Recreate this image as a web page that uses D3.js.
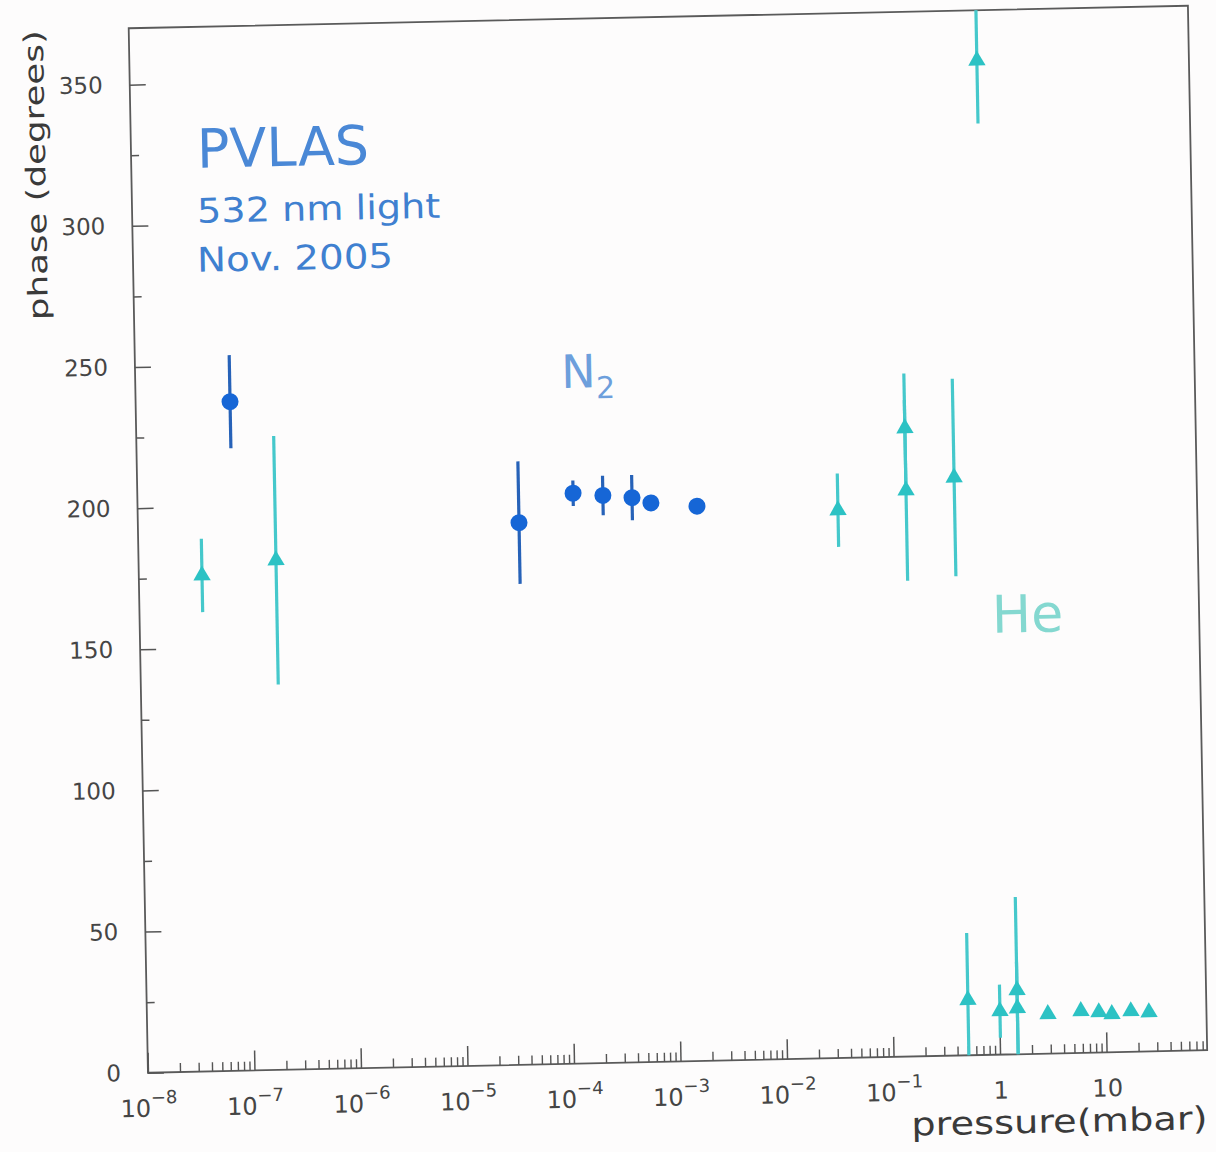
<!DOCTYPE html>
<html>
<head>
<meta charset="utf-8">
<script src="https://cdn.jsdelivr.net/npm/d3@7/dist/d3.min.js"></script>
<style>
  html, body { margin: 0; padding: 0; background: #fdfcfc; }
  svg { display: block; }
  text { font-family: "DejaVu Sans", sans-serif; }
</style>
</head>
<body>
<svg id="chart" width="1216" height="1152"></svg>
<script>
// ---- data ----
const n2Pressure = [7.7e-8, 3.78e-5, 1.23e-4, 2.34e-4, 4.39e-4, 6.59e-4, 1.78e-3];
const n2Phase    = [237, 192, 202, 201, 200, 198, 196.5];
const n2Error    = [16.5, 21.7, 4.5, 7, 8, 0, 0];

const hePressure = [3.92e-8, 1.95e-7, 0.0374, 0.164, 0.164, 0.466, 0.90, 0.510, 1.015, 1.48, 1.48, 2.86, 5.84, 8.61, 11.4, 17.2, 25.4];
const hePhase    = [175.7, 180.5, 194, 222.5, 200.5, 204.7, 352.2, 19.6, 15.4, 22.7, 16.3, 14.0, 14.8, 14.3, 13.5, 14.4, 13.9];
const heError    = [13, 44, 13, 19.4, 32, 35, 22.3, 23.7, 9.4, 33, 16.5, 0, 0, 0, 0, 0, 0];

const xDomain = [1e-8, 88];
const yDomain = [0, 370];
const xMajorTicks = [1e-8, 1e-7, 1e-6, 1e-5, 1e-4, 1e-3, 1e-2, 1e-1, 1, 10];
const xMajorBase  = ["10", "10", "10", "10", "10", "10", "10", "10", "1", "10"];
const xMajorExp   = ["−8", "−7", "−6", "−5", "−4", "−3", "−2", "−1", "", ""];
const yMajorTicks = [0, 50, 100, 150, 200, 250, 300, 350];
const yMinorTicks = [25, 75, 125, 175, 225, 275, 325];

const titleLines = ["PVLAS", "532 nm light", "Nov. 2005"];
const xTitle = "pressure(mbar)";
const yTitle = "phase (degrees)";

// ---- layout ----
const W = 1059, H = 1045;
const svg = d3.select("#chart");
// the scanned plot is slightly skewed; reproduce with an affine transform
const g = svg.append("g")
  .attr("transform", "matrix(1.0002,-0.02125,0.01842,0.9995,128.7,28.25)");

const x = d3.scaleLog().domain(xDomain).range([0, W]);
const y = d3.scaleLinear().domain(yDomain).range([H, 0]);

g.append("clipPath").attr("id", "clip")
  .append("rect").attr("x", 0).attr("y", 0).attr("width", W).attr("height", H);

// frame
g.append("rect").attr("x", 0).attr("y", 0).attr("width", W).attr("height", H)
  .attr("fill", "none").attr("stroke", "#5a5a5a").attr("stroke-width", 1.8);

// y axis
const yAx = g.append("g").call(d3.axisLeft(y).tickValues(yMajorTicks).tickSize(-16).tickPadding(27));
yAx.select(".domain").remove();
yAx.selectAll("line").attr("stroke", "#555").attr("stroke-width", 1.5);
yAx.selectAll("text").attr("font-size", 23).attr("fill", "#454545")
  .attr("font-family", "DejaVu Sans, sans-serif");
const yAxMin = g.append("g").call(d3.axisLeft(y).tickValues(yMinorTicks).tickSize(-8).tickFormat(""));
yAxMin.select(".domain").remove();
yAxMin.selectAll("line").attr("stroke", "#555").attr("stroke-width", 1.5);

// x axis
const minorX = [];
for (let e = -8; e <= 1; e++) for (let m = 2; m <= 9; m++) {
  const v = m * Math.pow(10, e);
  if (v < xDomain[1]) minorX.push(v);
}
const xAxMin = g.append("g").attr("transform", `translate(0,${H})`)
  .call(d3.axisBottom(x).tickValues(minorX).tickSize(-9).tickFormat(""));
xAxMin.select(".domain").remove();
xAxMin.selectAll("line").attr("stroke", "#555").attr("stroke-width", 1.4);

const xAx = g.append("g").attr("transform", `translate(0,${H})`)
  .call(d3.axisBottom(x).tickValues(xMajorTicks).tickSize(-20).tickFormat(""));
xAx.select(".domain").remove();
xAx.selectAll("line").attr("stroke", "#555").attr("stroke-width", 1.5);
xAx.selectAll(".tick").each(function(d, i) {
  const t = d3.select(this).append("text")
    .attr("y", 44).attr("text-anchor", "middle")
    .attr("fill", "#454545").attr("font-size", 24);
  t.append("tspan").text(xMajorBase[i]);
  if (xMajorExp[i]) t.append("tspan").attr("dy", -13).attr("font-size", 18).text(xMajorExp[i]);
});

// axis titles
g.append("text").attr("x", 1058).attr("y", 1124).attr("text-anchor", "end")
  .attr("font-size", 32).attr("fill", "#3a3a3a")
  .attr("textLength", 296).attr("lengthAdjust", "spacingAndGlyphs").text(xTitle);
g.append("text").attr("transform", "translate(-86,145) rotate(-90)")
  .attr("text-anchor", "middle").attr("font-size", 27).attr("fill", "#3a3a3a")
  .attr("textLength", 290).attr("lengthAdjust", "spacingAndGlyphs").text(yTitle);

// annotations
g.append("text").attr("x", 66).attr("y", 141).attr("font-size", 54).attr("fill", "#4a88d6")
  .attr("textLength", 172).attr("lengthAdjust", "spacingAndGlyphs").text(titleLines[0]);
g.append("text").attr("x", 65).attr("y", 196).attr("font-size", 34).attr("fill", "#3f80d0")
  .attr("textLength", 243).attr("lengthAdjust", "spacingAndGlyphs").text(titleLines[1]);
g.append("text").attr("x", 64).attr("y", 245).attr("font-size", 34).attr("fill", "#3f80d0")
  .attr("textLength", 196).attr("lengthAdjust", "spacingAndGlyphs").text(titleLines[2]);
const n2Lab = g.append("text").attr("x", 426).attr("y", 369).attr("fill", "#6d9fdc").attr("font-size", 46);
n2Lab.append("tspan").text("N");
n2Lab.append("tspan").attr("dy", 11).attr("font-size", 30).text("2");
g.append("text").attr("x", 852).attr("y", 623).attr("font-size", 52).attr("fill", "#84d8d0").text("He");

// data layer
const plot = g.append("g").attr("clip-path", "url(#clip)");

const he = hePressure.map((p, i) => ({p, v: hePhase[i], e: heError[i]}));
const n2 = n2Pressure.map((p, i) => ({p, v: n2Phase[i], e: n2Error[i]}));

plot.selectAll(".heErr").data(he.filter(d => d.e > 0)).join("line")
  .attr("x1", d => x(d.p)).attr("x2", d => x(d.p))
  .attr("y1", d => y(d.v - d.e)).attr("y2", d => y(d.v + d.e))
  .attr("stroke", "#45c8cb").attr("stroke-width", 3.2);
plot.selectAll(".heMark").data(he).join("path")
  .attr("transform", d => `translate(${x(d.p)},${y(d.v)})`)
  .attr("d", d3.symbol(d3.symbolTriangle, 130))
  .attr("fill", "#2cc2c4");

plot.selectAll(".n2Err").data(n2.filter(d => d.e > 0)).join("line")
  .attr("x1", d => x(d.p)).attr("x2", d => x(d.p))
  .attr("y1", d => y(d.v - d.e)).attr("y2", d => y(d.v + d.e))
  .attr("stroke", "#2762b8").attr("stroke-width", 3.2);
plot.selectAll(".n2Mark").data(n2).join("circle")
  .attr("cx", d => x(d.p)).attr("cy", d => y(d.v)).attr("r", 8.5)
  .attr("fill", "#1666d6");
</script>
</body>
</html>
